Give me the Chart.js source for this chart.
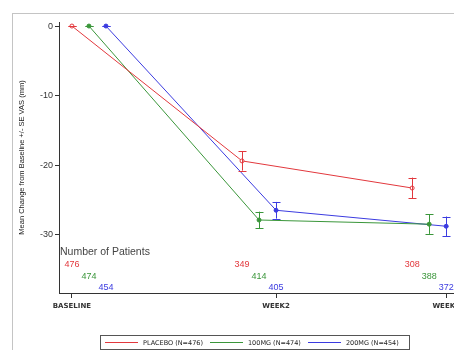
<!DOCTYPE html>
<html>
<head>
<meta charset="utf-8">
<script src="https://cdn.jsdelivr.net/npm/chart.js@4.4.1/dist/chart.umd.min.js"></script>
<style>
  html, body { margin: 0; padding: 0; background: #fff; overflow: hidden; }
  #wrap { position: relative; width: 454px; height: 350px; overflow: hidden; }
  #frame { position: absolute; left: 12px; top: 13px; width: 600px; height: 400px; border: 1px solid #c4c4c4; }
  #chart { position: absolute; left: 0; top: 0; }
  #legend { position: absolute; left: 100px; top: 335px; width: 308px; height: 13px; border: 1px solid #555;
            font: 6.5px "DejaVu Sans", sans-serif; color: #222; display: flex; align-items: center; white-space: nowrap; }
  #legend span.item { display: inline-flex; align-items: center; margin-left: 4px; margin-right: 3px; }
  #legend span.line { display: inline-block; width: 33px; height: 1px; margin-right: 5px; }
</style>
</head>
<body>
<div id="wrap">
  <div id="frame"></div>
  <canvas id="chart" width="480" height="350"></canvas>
  <div id="legend"></div>
</div>
<script>
// visits on the x axis
const visitLabels = ['BASELINE', 'WEEK2', 'WEEK6'];
const visitPos = [0, 6, 11];

// treatment groups
const groupNames = ['PLACEBO (N=476)', '100MG (N=474)', '200MG (N=454)'];
const groupColors = ['#e2383d', '#3a963a', '#3b3be0'];
// small horizontal shift of each group at each visit
const groupShift = [
  [0, -1, -1],
  [0.5, -0.5, -0.5],
  [1, 0, 0]
];

// mean change from baseline
const placeboMean = [0, -19.4, -23.3];
const mg100Mean = [0, -27.9, -28.5];
const mg200Mean = [0, -26.5, -28.8];

// standard errors
const placeboSE = [0, 1.4, 1.5];
const mg100SE = [0, 1.2, 1.4];
const mg200SE = [0, 1.2, 1.4];

// number of patients at each visit
const placeboN = [476, 349, 308];
const mg100N = [474, 414, 388];
const mg200N = [454, 405, 372];

const yTicks = [0, -10, -20, -30];

const means = [placeboMean, mg100Mean, mg200Mean];
const ses = [placeboSE, mg100SE, mg200SE];
const counts = [placeboN, mg100N, mg200N];

const datasets = groupNames.map((name, g) => ({
  label: name,
  data: visitPos.map((p, i) => ({ x: p + groupShift[g][i], y: means[g][i], se: ses[g][i], n: counts[g][i] })),
  borderColor: groupColors[g],
  backgroundColor: groupColors[g],
  borderWidth: 1,
  pointRadius: 2,
  pointBorderWidth: 1,
  pointBackgroundColor: g === 0 ? '#fff' : groupColors[g],
  tension: 0
}));

// error bars drawn through the chart scales
const errorBars = {
  id: 'errorBars',
  afterDatasetsDraw(chart) {
    const { ctx, scales: { x, y } } = chart;
    ctx.save();
    ctx.lineWidth = 1;
    chart.data.datasets.forEach(ds => {
      ctx.strokeStyle = ds.borderColor;
      ds.data.forEach(d => {
        const px = Math.round(x.getPixelForValue(d.x)) + 0.5;
        const top = y.getPixelForValue(d.y + d.se);
        const bot = y.getPixelForValue(d.y - d.se);
        ctx.beginPath();
        ctx.moveTo(px, top); ctx.lineTo(px, bot);
        ctx.moveTo(px - 4, Math.round(top) + 0.5); ctx.lineTo(px + 4, Math.round(top) + 0.5);
        ctx.moveTo(px - 4, Math.round(bot) + 0.5); ctx.lineTo(px + 4, Math.round(bot) + 0.5);
        ctx.stroke();
      });
    });
    ctx.restore();
  }
};

// "Number of Patients" table inside the plot
const patientTable = {
  id: 'patientTable',
  afterDatasetsDraw(chart) {
    const { ctx, scales: { x, y } } = chart;
    ctx.save();
    ctx.textBaseline = 'middle';
    ctx.fillStyle = '#444';
    ctx.font = '10.5px "Liberation Sans", Arial, sans-serif';
    ctx.textAlign = 'left';
    ctx.fillText('Number of Patients', x.left + 1, 252);
    ctx.font = '9px "Liberation Sans", Arial, sans-serif';
    ctx.textAlign = 'center';
    chart.data.datasets.forEach((ds, g) => {
      ctx.fillStyle = ds.borderColor;
      ds.data.forEach(d => {
        ctx.fillText(String(d.n), x.getPixelForValue(d.x), 265 + g * 11.5);
      });
    });
    ctx.restore();
  }
};

const chart = new Chart(document.getElementById('chart'), {
  type: 'line',
  data: { datasets },
  options: {
    responsive: false,
    animation: false,
    layout: { padding: { top: 22, right: 10, left: 0, bottom: 0 } },
    plugins: {
      legend: { display: false },
      tooltip: { enabled: false }
    },
    scales: {
      x: {
        type: 'linear',
        min: -0.38,
        max: 11.7,
        afterFit(scale) { scale.height = 57; },
        afterBuildTicks(scale) { scale.ticks = visitPos.map(v => ({ value: v })); },
        ticks: {
          autoSkip: false,
          maxRotation: 0,
          padding: 4,
          color: '#333',
          font: { family: '"DejaVu Sans", sans-serif', size: 7, weight: 'bold' },
          callback: v => visitLabels[visitPos.indexOf(v)]
        },
        grid: { drawOnChartArea: false, tickLength: 5, color: '#333' },
        border: { color: '#333', width: 1 }
      },
      y: {
        min: -38.4,
        max: 0.58,
        afterFit(scale) { scale.width = 59; },
        afterBuildTicks(scale) { scale.ticks = yTicks.map(v => ({ value: v })); },
        ticks: {
          padding: 2,
          color: '#333',
          font: { family: '"Liberation Sans", Arial, sans-serif', size: 9 }
        },
        grid: { drawOnChartArea: false, tickLength: 4, color: '#333' },
        border: { color: '#333', width: 1 },
        title: {
          display: true,
          text: 'Mean Change from Baseline +/- SE VAS (mm)',
          color: '#222',
          padding: { top: 17, bottom: 0 },
          font: { family: '"Liberation Sans", Arial, sans-serif', size: 7.5 }
        }
      }
    }
  },
  plugins: [errorBars, patientTable]
});

// legend box below the chart, built from the datasets
const legend = document.getElementById('legend');
chart.data.datasets.forEach(ds => {
  const item = document.createElement('span');
  item.className = 'item';
  const line = document.createElement('span');
  line.className = 'line';
  line.style.background = ds.borderColor;
  item.appendChild(line);
  item.appendChild(document.createTextNode(ds.label));
  legend.appendChild(item);
});
</script>
</body>
</html>
